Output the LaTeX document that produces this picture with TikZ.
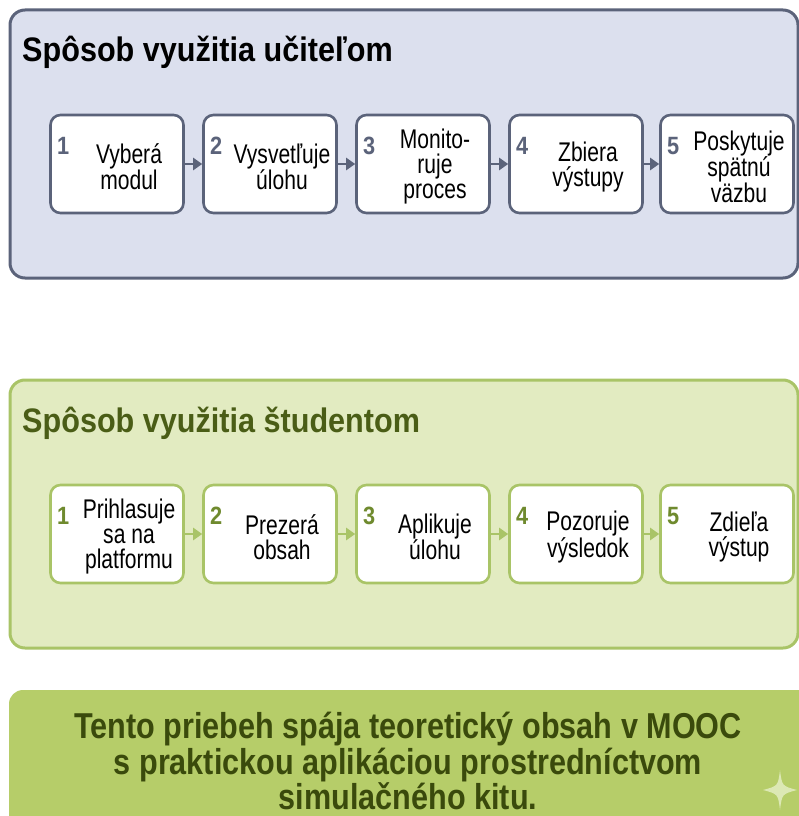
\documentclass[tikz,border=0pt]{standalone}
\usepackage{fontspec}
\setmainfont{Liberation Sans}[FakeStretch=0.87]
\newfontfamily\titlefont{Liberation Sans}[FakeStretch=0.9]
\newfontfamily\boxfont{Liberation Sans}[FakeStretch=0.78]
\newfontfamily\sumfont{Liberation Sans}[FakeStretch=0.85]
\usetikzlibrary{arrows.meta}
\definecolor{tfill}{HTML}{DCE0EE}
\definecolor{tline}{HTML}{5B637A}
\definecolor{gfill}{HTML}{E2EBC1}
\definecolor{gline}{HTML}{A9C467}
\definecolor{gnum}{HTML}{6F8A2E}
\definecolor{gtitle}{HTML}{4A5D16}
\definecolor{bfill}{HTML}{B6CD69}
\definecolor{btext}{HTML}{3A4A0C}
\definecolor{spark}{HTML}{DCE8B4}
\tikzset{
  panel/.style={line width=3pt, rounded corners=15pt},
  stepbox/.style={draw, fill=white, line width=2.6pt, rounded corners=10pt,
    minimum width=133pt, minimum height=98pt, inner sep=0pt},
  tbox/.style={stepbox, draw=tline},
  gbox/.style={stepbox, draw=gline},
  txt/.style={align=center, font=\boxfont\fontsize{27}{25}\selectfont, inner sep=0pt, text=black},
  num/.style={font=\fontsize{25}{25}\selectfont\bfseries, inner sep=0pt},
  tarr/.style={draw=tline, line width=2.8pt, -{Triangle[length=9pt,width=12pt]}},
  garr/.style={draw=gline, line width=2.8pt, -{Triangle[length=9pt,width=12pt]}},
  title/.style={anchor=base west, inner sep=0pt, font=\titlefont\fontsize{34}{36}\selectfont\bfseries}
}
\begin{document}
\begin{tikzpicture}[x=1pt,y=-1pt]
\useasboundingbox (0,0) rectangle (799,816);
\fill[white] (0,0) rectangle (799,816);
\clip (0,0) rectangle (799,816);
% top panel
\draw[panel, draw=tline, fill=tfill] (10,10) rectangle (798,278);
\node[title] (tt) at (22,62) {Spôsob využitia učiteľom};
\node[tbox] (a1) at (117,164) {};
\node[tbox] (a2) at (270,164) {};
\node[tbox] (a3) at (423,164) {};
\node[tbox] (a4) at (576,164) {};
\node[tbox] (a5) at (727,164) {};
\node[txt] (ta1) at ([xshift=12pt,yshift=-3pt]a1.center) {Vyberá\\modul};
\node[txt] (ta2) at ([xshift=12pt,yshift=-3pt]a2.center) {Vysvetľuje\\úlohu};
\node[txt] (ta3) at ([xshift=12pt,yshift=-3pt]a3.center) {Monito-\\ruje\\proces};
\node[txt] (ta4) at ([xshift=12pt,yshift=-3pt]a4.center) {Zbiera\\výstupy};
\node[txt] (ta5) at ([xshift=12pt,yshift=-3pt]a5.center) {Poskytuje\\spätnú\\väzbu};
\foreach \i in {1,...,5}{
  \node[num, text=tline] (na\i) at ([shift={(14pt,-32pt)}]a\i.north west) {\i};
}
\draw[tarr] (a1.east) -- (a2.west);
\draw[tarr] (a2.east) -- (a3.west);
\draw[tarr] (a3.east) -- (a4.west);
\draw[tarr] (a4.east) -- (a5.west);
% green panel
\draw[panel, draw=gline, fill=gfill] (10,380) rectangle (798,648);
\node[title, text=gtitle] (gt) at (22,432) {Spôsob využitia študentom};
\node[gbox] (b1) at (117,534) {};
\node[gbox] (b2) at (270,534) {};
\node[gbox] (b3) at (423,534) {};
\node[gbox] (b4) at (576,534) {};
\node[gbox] (b5) at (727,534) {};
\node[txt] (tb1) at ([xshift=12pt,yshift=-3pt]b1.center) {Prihlasuje\\sa na\\platformu};
\node[txt] (tb2) at ([xshift=12pt,yshift=-3pt]b2.center) {Prezerá\\obsah};
\node[txt] (tb3) at ([xshift=12pt,yshift=-3pt]b3.center) {Aplikuje\\úlohu};
\node[txt] (tb4) at ([xshift=12pt,yshift=-3pt]b4.center) {Pozoruje\\výsledok};
\node[txt] (tb5) at ([xshift=12pt,yshift=-3pt]b5.center) {Zdieľa\\výstup};
\foreach \i in {1,...,5}{
  \node[num, text=gnum] (nb\i) at ([shift={(14pt,-32pt)}]b\i.north west) {\i};
}
\draw[garr] (b1.east) -- (b2.west);
\draw[garr] (b2.east) -- (b3.west);
\draw[garr] (b3.east) -- (b4.west);
\draw[garr] (b4.east) -- (b5.west);
% bottom summary
\fill[bfill, rounded corners=14pt] (9,690) rectangle (840,870);
\node[align=center, inner sep=0pt, text=btext, font=\sumfont\fontsize{36}{35.5}\selectfont\bfseries] (sum) at (408,761)
  {Tento priebeh spája teoretický obsah v MOOC\\s praktickou aplikáciou prostredníctvom\\simulačného kitu.};
\fill[spark] (780,770) .. controls (782,786) .. (797,790) .. controls (782,794) .. (780,810)
  .. controls (778,794) .. (763,790) .. controls (778,786) .. (780,770) -- cycle;
\end{tikzpicture}
\end{document}
